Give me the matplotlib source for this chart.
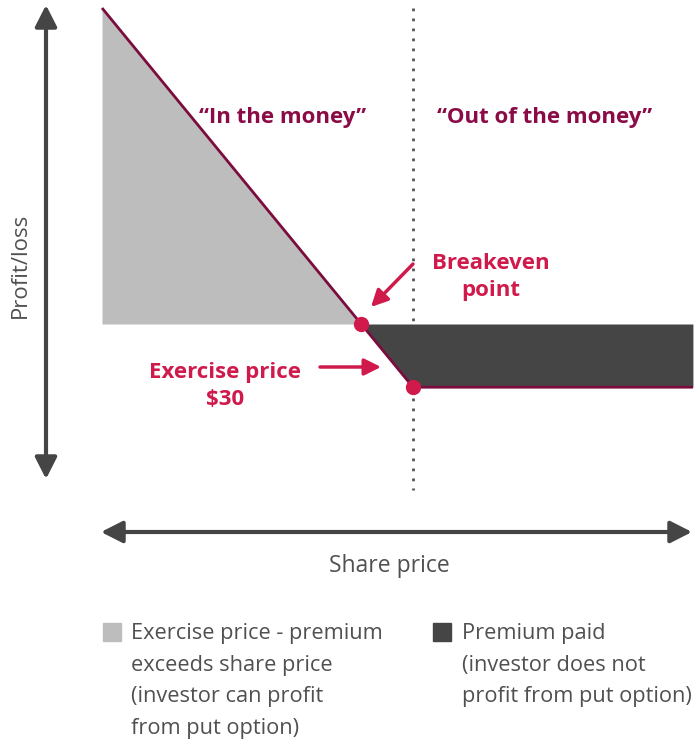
import matplotlib
matplotlib.use('Agg')
import matplotlib.pyplot as plt
from matplotlib.patches import Rectangle

plt.rcParams['font.family'] = ['Open Sans', 'DejaVu Sans']

# put option payoff (share price in $, profit/loss in $)
share_price = [0, 25, 30, 57]
profit = [25, 0, -5, -5]
exercise_price = 30
breakeven = 25
premium = 5

LINE = '#7b0c3e'
RED = '#d01a4b'
LIGHT = '#bcbdbc'
DARK = '#444544'
AXIS = '#454545'
TEXT = '#505050'

W, H = 696, 742
fig = plt.figure(figsize=(W / 100, H / 100), dpi=100)
ax = fig.add_axes([0, 0, 1, 1])
ax.axis('off')

# pixel scale of the drawing
kx = (413 - 102) / exercise_price
ky = 12.64
ax.set_xlim(-102 / kx, (W - 102) / kx)
ax.set_ylim((324 - H) / ky, 324 / ky)


def px(x, y):
    return x / W, 1 - y / H


# shaded regions
ax.fill_between(share_price[:2], profit[:2], 0, color=LIGHT, lw=0, zorder=1)
ax.fill_between(share_price[1:], profit[1:], 0, color=DARK, lw=0, zorder=1)

# exercise price guide
ax.plot([exercise_price, exercise_price], [25, -13.1], color='#555555',
        lw=2, linestyle=(0, (1, 2.6)), zorder=0)

# payoff line
ax.plot(share_price, profit, color=LINE, lw=2, zorder=3, solid_capstyle='butt')
ax.plot([breakeven, exercise_price], [0, -premium], 'o', color=RED,
        markersize=10, zorder=4)

# axes arrows
arrow_kw = dict(arrowstyle='<|-|>,head_length=0.65,head_width=0.33',
                lw=3, color=AXIS, shrinkA=0, shrinkB=0, mutation_scale=20)
ax.annotate('', xy=px(46, 5), xytext=px(46, 479), xycoords='figure fraction',
            textcoords='figure fraction', arrowprops=arrow_kw)
ax.annotate('', xy=px(101, 532), xytext=px(692, 532), xycoords='figure fraction',
            textcoords='figure fraction', arrowprops=arrow_kw)
fig.text(*px(20, 265), 'Profit/loss', rotation=90, ha='center', va='center',
         fontsize=16, color=TEXT)
fig.text(*px(389, 566), 'Share price', ha='center', va='center',
         fontsize=16.5, color=TEXT)

# labels
fig.text(*px(283, 118), '\u201cIn the money\u201d', ha='center', va='center',
         fontsize=16, fontweight='bold', color='#8a0b45')
fig.text(*px(545, 118), '\u201cOut of the money\u201d', ha='center', va='center',
         fontsize=16, fontweight='bold', color='#8a0b45')
fig.text(*px(491, 277), 'Breakeven\npoint', ha='center', va='center',
         fontsize=16, fontweight='bold', color=RED, linespacing=1.32)
fig.text(*px(225, 386), 'Exercise price\n$30', ha='center', va='center',
         fontsize=16, fontweight='bold', color=RED, linespacing=1.38)

red_kw = dict(arrowstyle='-|>,head_length=0.5,head_width=0.25', lw=2.5,
              color=RED, shrinkA=0, shrinkB=0, mutation_scale=20)
ax.annotate('', xy=px(371, 307), xytext=px(413, 264), xycoords='figure fraction',
            textcoords='figure fraction', arrowprops=red_kw)
ax.annotate('', xy=px(381, 367), xytext=px(320, 367), xycoords='figure fraction',
            textcoords='figure fraction', arrowprops=red_kw)

# legend
fig.patches.append(Rectangle(px(103, 641), 18 / W, 18 / H, color=LIGHT,
                             transform=fig.transFigure, figure=fig))
fig.patches.append(Rectangle(px(433, 641), 18 / W, 18 / H, color=DARK,
                             transform=fig.transFigure, figure=fig))
fig.text(*px(131, 623), 'Exercise price - premium\nexceeds share price\n'
         '(investor can profit\nfrom put option)', ha='left', va='top',
         fontsize=15.7, color=TEXT, linespacing=1.66)
fig.text(*px(462, 623), 'Premium paid\n(investor does not\n'
         'profit from put option)', ha='left', va='top',
         fontsize=15.7, color=TEXT, linespacing=1.66)

fig.savefig('out.png', dpi=100)
